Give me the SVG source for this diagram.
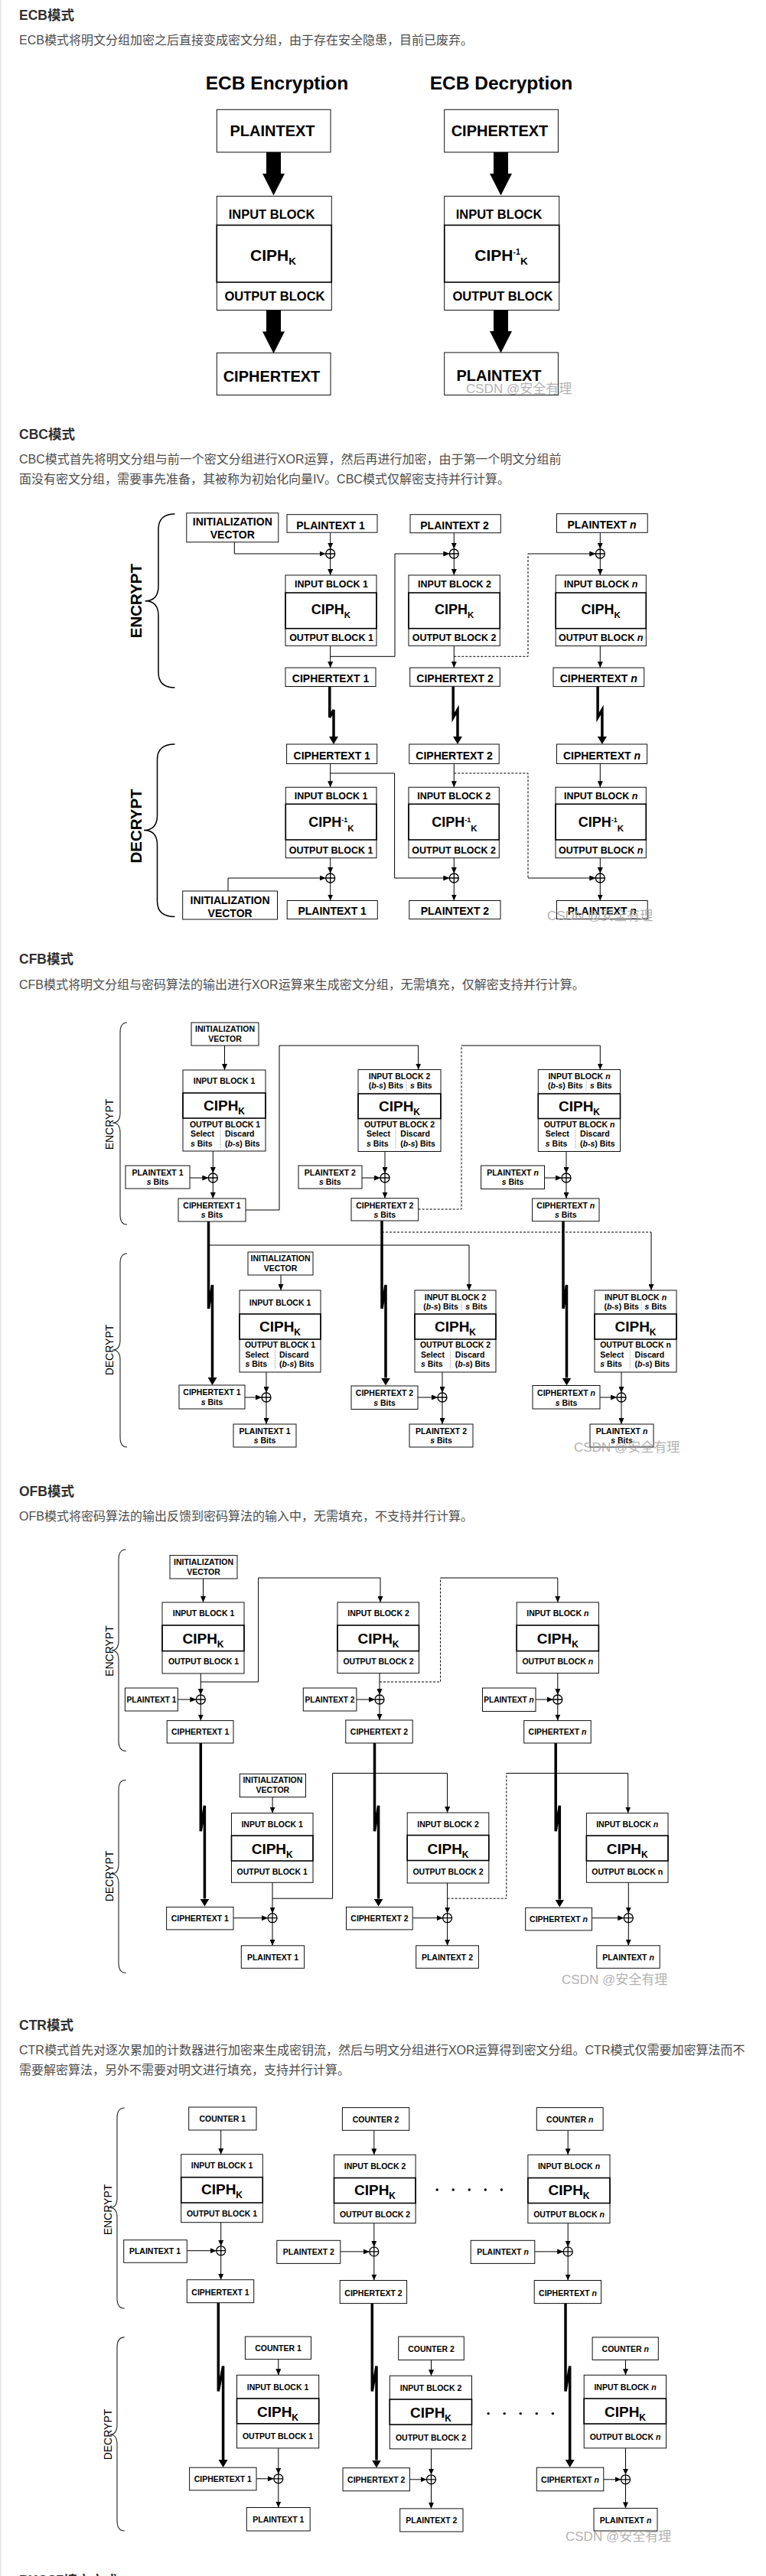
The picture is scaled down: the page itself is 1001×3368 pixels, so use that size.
<svg xmlns="http://www.w3.org/2000/svg" width="1001" height="3368" viewBox="0 0 1001 3368">
<style>
.h{font-family:"Liberation Sans","Noto Sans CJK SC",sans-serif;font-weight:bold;font-size:17.5px;fill:#2f2f2f}
.d{font-family:"Liberation Sans","Noto Sans CJK SC",sans-serif;font-size:16px;fill:#4d4d4d}
.wm{font-family:"Liberation Sans","Noto Sans CJK SC",sans-serif;font-size:17px;fill:#a3a3a3;fill-opacity:.85}
.b{fill:#fff;stroke:#111;stroke-width:1}
.c{fill:none;stroke:#000;stroke-width:1.6}
.t{font-family:"Liberation Sans",Arial,sans-serif;font-weight:bold;fill:#000;text-anchor:middle}
.l{text-anchor:start}
.f10{font-size:10.5px}
.f12{font-size:12.5px}
.f14{font-size:14px}
.f16{font-size:16.5px}
.f20{font-size:20px}
.k{font-size:12px}
.i{font-style:italic}
.ln{fill:none;stroke:#000;stroke-width:1}
.a{marker-end:url(#ah)}
.ds{stroke-dasharray:3 2}
.tk{fill:none;stroke:#000;stroke-width:3.5;marker-end:url(#aht)}
.br{fill:none;stroke:#000;stroke-width:1.5}
.br2{fill:none;stroke:#222;stroke-width:1.1}
.sep{stroke:#999;stroke-width:1;stroke-dasharray:1 1}
.rl{font-family:"Liberation Sans",Arial,sans-serif;text-anchor:middle;fill:#000;font-size:14px}
.rb{font-family:"Liberation Sans",Arial,sans-serif;text-anchor:middle;fill:#000;font-size:20.5px;font-weight:bold}
</style>
<defs>
<marker id="ah" markerUnits="userSpaceOnUse" markerWidth="8" markerHeight="7" refX="8" refY="3.5" orient="auto"><path d="M0,0 L8,3.5 L0,7 z" fill="#000"/></marker>
<marker id="aht" markerUnits="userSpaceOnUse" markerWidth="10" markerHeight="12" refX="0" refY="6" orient="auto"><path d="M0,0 L10,6 L0,12 z" fill="#000"/></marker>
<g id="xor"><circle r="6" fill="#fff" stroke="#000" stroke-width="1.3"/><path d="M-6,0H6M0,-6V6" stroke="#000" stroke-width="1.3"/></g>
<path id="bigArrow" d="M-9.5,0 H9.5 V28 H14.5 L0,56.5 L-14.5,28 H-9.5 Z" fill="#000"/>
</defs>
<rect x="0" y="0" width="1001" height="3368" fill="#fff"/>
<rect x="0" y="0" width="1.5" height="3368" fill="#e3e3e3"/>

<!-- ================= ECB ================= -->
<g id="ecb-text">
<text class="h" x="25" y="26">ECB模式</text>
<text class="d" x="25" y="58">ECB模式将明文分组加密之后直接变成密文分组，由于存在安全隐患，目前已废弃。</text>
<text class="t" x="362" y="117" font-size="24.5">ECB Encryption</text>
<text class="t" x="655" y="117" font-size="24.5">ECB Decryption</text>
</g>
<g id="ecb-enc-plaintext"><rect class="b" x="283.3" y="143.3" width="148.7" height="55.7"/><text class="t f20" x="356" y="177.5">PLAINTEXT</text></g>
<g id="ecb-enc-block"><rect class="b" x="283.3" y="256.5" width="150" height="149"/><rect class="c" x="283.3" y="294.4" width="150" height="74.6"/>
<text class="t f16" x="355" y="286">INPUT BLOCK</text>
<text class="t" x="357" y="341" font-size="21">CIPH<tspan font-size="13.5" dy="5">K</tspan></text>
<text class="t f16" x="359" y="392.6">OUTPUT BLOCK</text></g>
<g id="ecb-enc-ciphertext"><rect class="b" x="283.3" y="461.4" width="148.7" height="55.1"/><text class="t f20" x="355" y="498.6">CIPHERTEXT</text></g>
<g id="ecb-dec-ciphertext"><rect class="b" x="580.7" y="143.3" width="148.7" height="55.7"/><text class="t f20" x="653" y="177.5">CIPHERTEXT</text></g>
<g id="ecb-dec-block"><rect class="b" x="580.7" y="256.5" width="150" height="149"/><rect class="c" x="580.7" y="294.4" width="150" height="74.6"/>
<text class="t f16" x="652" y="286">INPUT BLOCK</text>
<text class="t" x="655" y="341" font-size="21">CIPH<tspan font-size="10.5" dy="-8">-1</tspan><tspan font-size="13.5" dy="13">K</tspan></text>
<text class="t f16" x="657" y="392.6">OUTPUT BLOCK</text></g>
<g id="ecb-dec-plaintext"><rect class="b" x="580.7" y="460.9" width="148.7" height="55.6"/><text class="t f20" x="652" y="497.6">PLAINTEXT</text></g>
<g id="ecb-connectors">
<use href="#bigArrow" x="357.5" y="199"/>
<use href="#bigArrow" x="357.5" y="405.5"/>
<use href="#bigArrow" x="654.5" y="199"/>
<use href="#bigArrow" x="654.5" y="405"/>
</g>
<text class="wm" x="609" y="514">CSDN @安全有理</text>

<!-- ================= CBC ================= -->
<g id="cbc-text">
<text class="h" x="25" y="574">CBC模式</text>
<text class="d" x="25" y="606">CBC模式首先将明文分组与前一个密文分组进行XOR运算，然后再进行加密，由于第一个明文分组前</text>
<text class="d" x="25" y="632">面没有密文分组，需要事先准备，其被称为初始化向量IV。CBC模式仅解密支持并行计算。</text>
</g>
<g id="cbc-labels">
<path class="br" d="M228.5,672 Q207,672 207,692 V766 Q207,785.7 189.5,785.7 Q207,785.7 207,805 V879 Q207,899 228.5,899"/>
<text class="rb" transform="translate(184.5,785.6) rotate(-90)">ENCRYPT</text>
<path class="br" d="M228.5,973 Q205.5,973 205.5,993 V1066 Q205.5,1085.5 188,1085.5 Q205.5,1085.5 205.5,1105 V1178.5 Q205.5,1198.5 228.5,1198.5"/>
<text class="rb" transform="translate(184.5,1080) rotate(-90)">DECRYPT</text>
</g>
<g id="cbc-connectors">
<path class="ln a" d="M306.3,708.8 V724 H425.5"/>
<path class="ln a" d="M431.7,696.2 V717.8"/>
<path class="ln a" d="M593.3,696.7 V717.8"/>
<path class="ln a" d="M784.3,696.3 V717.8"/>
<path class="ln a" d="M431.7,730 V752"/>
<path class="ln a" d="M593.3,730 V752"/>
<path class="ln a" d="M784.3,730 V752"/>
<path class="ln a" d="M431.7,844.3 V873"/>
<path class="ln a" d="M593.3,844.3 V873"/>
<path class="ln a" d="M784.3,844.5 V873"/>
<path class="ln a" d="M431.7,858.3 H516 V724 H587.3"/>
<path class="ln ds" d="M593.3,858.3 H690 V724"/>
<path class="ln a" d="M690,724 H778.3"/>
<path class="tk" d="M430.8,897.5 V938 L436,928 V963"/>
<path class="tk" d="M592.2,897.3 V938 L598,928 V963"/>
<path class="tk" d="M781.1,897.6 V938 L786.9,928 V963"/>
<path class="ln a" d="M431.7,998.5 V1029.3"/>
<path class="ln a" d="M593.3,998.5 V1029.3"/>
<path class="ln a" d="M784.3,998.5 V1029.3"/>
<path class="ln a" d="M431.7,1011 H515.6 V1148 H587.3"/>
<path class="ln ds" d="M593.3,1011 H690 V1148"/>
<path class="ln a" d="M690,1148 H778.3"/>
<path class="ln a" d="M431.7,1121.7 V1142"/>
<path class="ln a" d="M593.3,1121.7 V1142"/>
<path class="ln a" d="M784.3,1121.7 V1142"/>
<path class="ln a" d="M298,1165 V1148 H425.7"/>
<path class="ln a" d="M431.7,1154 V1177.5"/>
<path class="ln a" d="M593.3,1154 V1177.5"/>
<path class="ln a" d="M784.3,1154 V1177.5"/>
<use href="#xor" x="431.7" y="724"/><use href="#xor" x="593.3" y="724"/><use href="#xor" x="784.3" y="724"/>
<use href="#xor" x="431.7" y="1148"/><use href="#xor" x="593.3" y="1148"/><use href="#xor" x="784.3" y="1148"/>
</g>
<g id="cbc-enc-iv"><rect class="b" x="243.8" y="670.8" width="120" height="38"/><text class="t f14" x="303.8" y="687.3">INITIALIZATION</text><text class="t f14" x="303.8" y="704.3">VECTOR</text></g>
<g id="cbc-enc-pt1"><rect class="b" x="375" y="672.7" width="118" height="23.5"/><text class="t f14" x="432" y="691.5">PLAINTEXT 1</text></g>
<g id="cbc-enc-pt2"><rect class="b" x="536" y="672.7" width="118.3" height="24"/><text class="t f14" x="594" y="691.7">PLAINTEXT 2</text></g>
<g id="cbc-enc-ptn"><rect class="b" x="727.5" y="671.7" width="118.7" height="24.6"/><text class="t f14" x="786.5" y="690.8">PLAINTEXT <tspan class="i">n</tspan></text></g>
<g id="cbc-enc-block1"><rect class="b" x="373" y="752" width="119" height="92.3"/><rect class="c" x="373" y="775" width="119" height="46.7"/>
<text class="t f12" x="433" y="768">INPUT BLOCK 1</text><text class="t" x="432.5" y="803.3" font-size="18">CIPH<tspan font-size="11.5" dy="5">K</tspan></text><text class="t f12" x="433" y="838.3">OUTPUT BLOCK 1</text></g>
<g id="cbc-enc-block2"><rect class="b" x="534" y="752" width="119.3" height="92.3"/><rect class="c" x="534" y="775" width="119.3" height="46.7"/>
<text class="t f12" x="594" y="768">INPUT BLOCK 2</text><text class="t" x="593.6" y="803.3" font-size="18">CIPH<tspan font-size="11.5" dy="5">K</tspan></text><text class="t f12" x="593.6" y="838.3">OUTPUT BLOCK 2</text></g>
<g id="cbc-enc-blockn"><rect class="b" x="726.2" y="752" width="118.1" height="92.5"/><rect class="c" x="726.2" y="775" width="118.1" height="46.7"/>
<text class="t f12" x="785.2" y="768">INPUT BLOCK <tspan class="i">n</tspan></text><text class="t" x="785.2" y="803.3" font-size="18">CIPH<tspan font-size="11.5" dy="5">K</tspan></text><text class="t f12" x="785.2" y="838.3">OUTPUT BLOCK <tspan class="i">n</tspan></text></g>
<g id="cbc-enc-ct1"><rect class="b" x="373" y="873" width="118" height="24.5"/><text class="t f14" x="432" y="892.3">CIPHERTEXT 1</text></g>
<g id="cbc-enc-ct2"><rect class="b" x="535.7" y="873" width="117.6" height="24.3"/><text class="t f14" x="594.5" y="892.3">CIPHERTEXT 2</text></g>
<g id="cbc-enc-ctn"><rect class="b" x="723" y="873" width="118.7" height="24.6"/><text class="t f14" x="782.3" y="892.3">CIPHERTEXT <tspan class="i">n</tspan></text></g>
<g id="cbc-dec-ct1"><rect class="b" x="374.6" y="973" width="118.1" height="25.5"/><text class="t f14" x="433.7" y="992.5">CIPHERTEXT 1</text></g>
<g id="cbc-dec-ct2"><rect class="b" x="534.8" y="973" width="117.4" height="25.5"/><text class="t f14" x="593.5" y="992.5">CIPHERTEXT 2</text></g>
<g id="cbc-dec-ctn"><rect class="b" x="727.5" y="973" width="118.1" height="25.5"/><text class="t f14" x="786.5" y="992.5">CIPHERTEXT <tspan class="i">n</tspan></text></g>
<g id="cbc-dec-block1"><rect class="b" x="373.3" y="1029.3" width="118.7" height="92.4"/><rect class="c" x="373.3" y="1051.3" width="118.7" height="46.7"/>
<text class="t f12" x="432.6" y="1045.3">INPUT BLOCK 1</text><text class="t" x="433" y="1080.6" font-size="18">CIPH<tspan font-size="9" dy="-6">-1</tspan><tspan font-size="11.5" dy="12">K</tspan></text><text class="t f12" x="432.6" y="1115.6">OUTPUT BLOCK 1</text></g>
<g id="cbc-dec-block2"><rect class="b" x="534" y="1029.3" width="118.3" height="92.4"/><rect class="c" x="534" y="1051.3" width="118.3" height="46.7"/>
<text class="t f12" x="593.2" y="1045.3">INPUT BLOCK 2</text><text class="t" x="594" y="1080.6" font-size="18">CIPH<tspan font-size="9" dy="-6">-1</tspan><tspan font-size="11.5" dy="12">K</tspan></text><text class="t f12" x="593.2" y="1115.6">OUTPUT BLOCK 2</text></g>
<g id="cbc-dec-blockn"><rect class="b" x="726" y="1029.3" width="118.3" height="92.4"/><rect class="c" x="726" y="1051.3" width="118.3" height="46.7"/>
<text class="t f12" x="785.2" y="1045.3">INPUT BLOCK <tspan class="i">n</tspan></text><text class="t" x="785.5" y="1080.6" font-size="18">CIPH<tspan font-size="9" dy="-6">-1</tspan><tspan font-size="11.5" dy="12">K</tspan></text><text class="t f12" x="785.2" y="1115.6">OUTPUT BLOCK <tspan class="i">n</tspan></text></g>
<g id="cbc-dec-iv"><rect class="b" x="238.7" y="1165" width="123.8" height="37"/><text class="t f14" x="300.6" y="1181.5">INITIALIZATION</text><text class="t f14" x="300.6" y="1198.5">VECTOR</text></g>
<g id="cbc-dec-pt1"><rect class="b" x="375.2" y="1177.5" width="118.1" height="24.1"/><text class="t f14" x="434.2" y="1196">PLAINTEXT 1</text></g>
<g id="cbc-dec-pt2"><rect class="b" x="534.8" y="1177.5" width="119.2" height="24.1"/><text class="t f14" x="594.4" y="1196">PLAINTEXT 2</text></g>
<g id="cbc-dec-ptn"><rect class="b" x="727.5" y="1177.5" width="118.7" height="24.1"/><text class="t f14" x="786.8" y="1196">PLAINTEXT <tspan class="i">n</tspan></text></g>
<text class="wm" x="715" y="1203">CSDN @安全有理</text>

<!-- ================= CFB ================= -->
<g id="cfb-text">
<text class="h" x="25" y="1260">CFB模式</text>
<text class="d" x="25" y="1293">CFB模式将明文分组与密码算法的输出进行XOR运算来生成密文分组，无需填充，仅解密支持并行计算。</text>
</g>
<g id="cfb-labels">
<path class="br2" d="M166,1337 Q157,1337 157,1350 V1455 Q157,1468 147,1468 Q157,1468 157,1481 V1588 Q157,1601 166,1601"/>
<text class="rl" transform="translate(148,1470) rotate(-90)">ENCRYPT</text>
<path class="br2" d="M166,1639 Q157,1639 157,1652 V1752 Q157,1765 147,1765 Q157,1765 157,1778 V1879 Q157,1892 166,1892"/>
<text class="rl" transform="translate(148,1765) rotate(-90)">DECRYPT</text>
</g>
<g id="cfb-connectors">
<path class="ln a" d="M293.5,1367 V1399"/>
<path class="ln a" d="M278.3,1505 V1534"/>
<path class="ln a" d="M248,1540 H272.3"/>
<path class="ln a" d="M278.3,1546 V1567"/>
<path class="ln a" d="M321,1582 H365 V1367 H546.7 V1398.5"/>
<path class="ln a" d="M503,1505.5 V1534"/>
<path class="ln a" d="M473,1540 H497"/>
<path class="ln a" d="M503,1546 V1566.7"/>
<path class="ln ds" d="M546.7,1581 H603 V1367"/>
<path class="ln a" d="M603,1367 H784.3 V1398.5"/>
<path class="ln a" d="M740,1505.5 V1534"/>
<path class="ln a" d="M711.5,1540 H734"/>
<path class="ln a" d="M740,1546 V1567"/>
<path class="tk" d="M272.5,1597 V1711 L277.5,1680 V1801"/>
<path class="tk" d="M499,1596 V1711 L504,1680 V1801.5"/>
<path class="tk" d="M736,1596.7 V1711 L740.5,1680 V1801.5"/>
<path class="ln a" d="M272.5,1628 H613 V1687"/>
<path class="ln ds" d="M499,1611 H851"/>
<path class="ln a" d="M851,1611 V1687"/>
<path class="ln a" d="M367,1667 V1687"/>
<path class="ln a" d="M348,1794 V1821"/>
<path class="ln a" d="M320,1827 H342"/>
<path class="ln a" d="M348,1833 V1862"/>
<path class="ln a" d="M578,1794 V1821"/>
<path class="ln a" d="M546,1827 H572"/>
<path class="ln a" d="M578,1833 V1862"/>
<path class="ln a" d="M812,1794 V1821"/>
<path class="ln a" d="M784,1827 H806"/>
<path class="ln a" d="M812,1833 V1862"/>
<use href="#xor" x="278.3" y="1540"/><use href="#xor" x="503" y="1540"/><use href="#xor" x="740" y="1540"/>
<use href="#xor" x="348" y="1827"/><use href="#xor" x="578" y="1827"/><use href="#xor" x="812" y="1827"/>
</g>
<g id="cfb-enc-iv"><rect class="b" x="250" y="1337" width="88" height="30"/><text class="t f10" x="294" y="1349">INITIALIZATION</text><text class="t f10" x="294" y="1362">VECTOR</text></g>
<g id="cfb-enc-block1"><rect class="b" x="239" y="1399" width="108" height="106"/><rect class="c" x="239" y="1429" width="108" height="33"/>
<text class="t f10" x="293" y="1417">INPUT BLOCK 1</text>
<text class="t" x="293" y="1452.3" font-size="19">CIPH<tspan class="k" dy="5">K</tspan></text>
<text class="t f10" x="294" y="1473.5">OUTPUT BLOCK 1</text>
<text class="t f10 l" x="249" y="1486">Select</text><text class="t f10 l" x="294" y="1486">Discard</text>
<text class="t f10 l" x="249" y="1498.7"><tspan class="i">s</tspan> Bits</text><text class="t f10 l" x="294" y="1498.7">(<tspan class="i">b</tspan>-<tspan class="i">s</tspan>) Bits</text>
<line class="sep" x1="288" y1="1478" x2="288" y2="1501"/></g>
<g id="cfb-enc-pt1"><rect class="b" x="164" y="1524" width="84" height="30"/><text class="t f10" x="206" y="1536.7">PLAINTEXT 1</text><text class="t f10" x="206" y="1549"><tspan class="i">s</tspan> Bits</text></g>
<g id="cfb-enc-ct1"><rect class="b" x="233" y="1567" width="88" height="30"/><text class="t f10" x="277" y="1580">CIPHERTEXT 1</text><text class="t f10" x="277" y="1592.3"><tspan class="i">s</tspan> Bits</text></g>
<g id="cfb-enc-block2"><rect class="b" x="468" y="1398.5" width="108" height="107"/><rect class="c" x="468" y="1430" width="108" height="32.5"/>
<text class="t f10" x="522" y="1410.7">INPUT BLOCK 2</text>
<text class="t f10 l" x="481.7" y="1422.7">(<tspan class="i">b</tspan>-<tspan class="i">s</tspan>) Bits</text><text class="t f10 l" x="536" y="1422.7"><tspan class="i">s</tspan> Bits</text>
<line class="sep" x1="531" y1="1413" x2="531" y2="1426"/>
<text class="t" x="522" y="1452.5" font-size="19">CIPH<tspan class="k" dy="5">K</tspan></text>
<text class="t f10" x="522" y="1473.5">OUTPUT BLOCK 2</text>
<text class="t f10 l" x="479" y="1486">Select</text><text class="t f10 l" x="523.3" y="1486">Discard</text>
<text class="t f10 l" x="479" y="1498.7"><tspan class="i">s</tspan> Bits</text><text class="t f10 l" x="523.3" y="1498.7">(<tspan class="i">b</tspan>-<tspan class="i">s</tspan>) Bits</text>
<line class="sep" x1="517" y1="1478" x2="517" y2="1501"/></g>
<g id="cfb-enc-pt2"><rect class="b" x="390" y="1524" width="83" height="30"/><text class="t f10" x="431.3" y="1536.7">PLAINTEXT 2</text><text class="t f10" x="431.3" y="1549"><tspan class="i">s</tspan> Bits</text></g>
<g id="cfb-enc-ct2"><rect class="b" x="459" y="1566.7" width="87.7" height="29.3"/><text class="t f10" x="502.8" y="1579.7">CIPHERTEXT 2</text><text class="t f10" x="502.8" y="1592"><tspan class="i">s</tspan> Bits</text></g>
<g id="cfb-enc-blockn"><rect class="b" x="703.3" y="1398.5" width="107.2" height="107"/><rect class="c" x="703.3" y="1430" width="107.2" height="32.5"/>
<text class="t f10" x="757" y="1410.7">INPUT BLOCK <tspan class="i">n</tspan></text>
<text class="t f10 l" x="716" y="1422.7">(<tspan class="i">b</tspan>-<tspan class="i">s</tspan>) Bits</text><text class="t f10 l" x="771" y="1422.7"><tspan class="i">s</tspan> Bits</text>
<line class="sep" x1="766" y1="1413" x2="766" y2="1426"/>
<text class="t" x="757" y="1452.5" font-size="19">CIPH<tspan class="k" dy="5">K</tspan></text>
<text class="t f10" x="757" y="1473.5">OUTPUT BLOCK <tspan class="i">n</tspan></text>
<text class="t f10 l" x="712.8" y="1486">Select</text><text class="t f10 l" x="758.1" y="1486">Discard</text>
<text class="t f10 l" x="712.8" y="1498.7"><tspan class="i">s</tspan> Bits</text><text class="t f10 l" x="758.1" y="1498.7">(<tspan class="i">b</tspan>-<tspan class="i">s</tspan>) Bits</text>
<line class="sep" x1="752" y1="1478" x2="752" y2="1501"/></g>
<g id="cfb-enc-ptn"><rect class="b" x="628.6" y="1524" width="82.9" height="30.5"/><text class="t f10" x="670" y="1536.7">PLAINTEXT <tspan class="i">n</tspan></text><text class="t f10" x="670" y="1549"><tspan class="i">s</tspan> Bits</text></g>
<g id="cfb-enc-ctn"><rect class="b" x="695.6" y="1567" width="87.4" height="29.7"/><text class="t f10" x="739.3" y="1580">CIPHERTEXT <tspan class="i">n</tspan></text><text class="t f10" x="739.3" y="1592.3"><tspan class="i">s</tspan> Bits</text></g>
<g id="cfb-dec-iv"><rect class="b" x="324" y="1637" width="85" height="30"/><text class="t f10" x="366.5" y="1649">INITIALIZATION</text><text class="t f10" x="366.5" y="1662">VECTOR</text></g>
<g id="cfb-dec-block1"><rect class="b" x="313" y="1687" width="106" height="107"/><rect class="c" x="313" y="1718" width="106" height="33"/>
<text class="t f10" x="366" y="1706.5">INPUT BLOCK 1</text>
<text class="t" x="366" y="1740.5" font-size="19">CIPH<tspan class="k" dy="5">K</tspan></text>
<text class="t f10" x="366" y="1762">OUTPUT BLOCK 1</text>
<text class="t f10 l" x="320.4" y="1774.5">Select</text><text class="t f10 l" x="365" y="1774.5">Discard</text>
<text class="t f10 l" x="320.4" y="1787"><tspan class="i">s</tspan> Bits</text><text class="t f10 l" x="365" y="1787">(<tspan class="i">b</tspan>-<tspan class="i">s</tspan>) Bits</text>
<line class="sep" x1="359.5" y1="1766" x2="359.5" y2="1789"/></g>
<g id="cfb-dec-ct1"><rect class="b" x="234" y="1811" width="86" height="31"/><text class="t f10" x="277" y="1824.4">CIPHERTEXT 1</text><text class="t f10" x="277" y="1836.7"><tspan class="i">s</tspan> Bits</text></g>
<g id="cfb-dec-pt1"><rect class="b" x="305" y="1862" width="82" height="30"/><text class="t f10" x="346" y="1875">PLAINTEXT 1</text><text class="t f10" x="346" y="1887.3"><tspan class="i">s</tspan> Bits</text></g>
<g id="cfb-dec-block2"><rect class="b" x="542" y="1687" width="106" height="107"/><rect class="c" x="542" y="1718" width="106" height="33"/>
<text class="t f10" x="595" y="1700">INPUT BLOCK 2</text>
<text class="t f10 l" x="553.3" y="1712">(<tspan class="i">b</tspan>-<tspan class="i">s</tspan>) Bits</text><text class="t f10 l" x="608.2" y="1712"><tspan class="i">s</tspan> Bits</text>
<line class="sep" x1="603.3" y1="1703" x2="603.3" y2="1715"/>
<text class="t" x="595" y="1740.5" font-size="19">CIPH<tspan class="k" dy="5">K</tspan></text>
<text class="t f10" x="595" y="1762">OUTPUT BLOCK 2</text>
<text class="t f10 l" x="550" y="1774.5">Select</text><text class="t f10 l" x="594.8" y="1774.5">Discard</text>
<text class="t f10 l" x="550" y="1787"><tspan class="i">s</tspan> Bits</text><text class="t f10 l" x="594.8" y="1787">(<tspan class="i">b</tspan>-<tspan class="i">s</tspan>) Bits</text>
<line class="sep" x1="588.4" y1="1766" x2="588.4" y2="1789"/></g>
<g id="cfb-dec-ct2"><rect class="b" x="459" y="1812" width="87" height="30.5"/><text class="t f10" x="502.5" y="1825">CIPHERTEXT 2</text><text class="t f10" x="502.5" y="1837.5"><tspan class="i">s</tspan> Bits</text></g>
<g id="cfb-dec-pt2"><rect class="b" x="535" y="1862" width="83" height="30"/><text class="t f10" x="576.5" y="1875">PLAINTEXT 2</text><text class="t f10" x="576.5" y="1887.3"><tspan class="i">s</tspan> Bits</text></g>
<g id="cfb-dec-blockn"><rect class="b" x="777" y="1687" width="107" height="107"/><rect class="c" x="777" y="1718" width="107" height="33"/>
<text class="t f10" x="830.5" y="1700">INPUT BLOCK <tspan class="i">n</tspan></text>
<text class="t f10 l" x="789.4" y="1712">(<tspan class="i">b</tspan>-<tspan class="i">s</tspan>) Bits</text><text class="t f10 l" x="842.4" y="1712"><tspan class="i">s</tspan> Bits</text>
<line class="sep" x1="838" y1="1703" x2="838" y2="1715"/>
<text class="t" x="830.5" y="1740.5" font-size="19">CIPH<tspan class="k" dy="5">K</tspan></text>
<text class="t f10" x="830.5" y="1762">OUTPUT BLOCK n</text>
<text class="t f10 l" x="784.3" y="1774.5">Select</text><text class="t f10 l" x="829.6" y="1774.5">Discard</text>
<text class="t f10 l" x="784.3" y="1787"><tspan class="i">s</tspan> Bits</text><text class="t f10 l" x="829.6" y="1787">(<tspan class="i">b</tspan>-<tspan class="i">s</tspan>) Bits</text>
<line class="sep" x1="823.2" y1="1766" x2="823.2" y2="1789"/></g>
<g id="cfb-dec-ctn"><rect class="b" x="696" y="1811.5" width="88" height="30.5"/><text class="t f10" x="740" y="1825">CIPHERTEXT <tspan class="i">n</tspan></text><text class="t f10" x="740" y="1837.5"><tspan class="i">s</tspan> Bits</text></g>
<g id="cfb-dec-ptn"><rect class="b" x="771" y="1862" width="83" height="30"/><text class="t f10" x="812.5" y="1875">PLAINTEXT <tspan class="i">n</tspan></text><text class="t f10" x="812.5" y="1887.3"><tspan class="i">s</tspan> Bits</text></g>
<text class="wm" x="750" y="1898">CSDN @安全有理</text>

<!-- ================= OFB ================= -->
<g id="ofb-text">
<text class="h" x="25" y="1956">OFB模式</text>
<text class="d" x="25" y="1988">OFB模式将密码算法的输出反馈到密码算法的输入中，无需填充，不支持并行计算。</text>
</g>
<g id="ofb-labels">
<path class="br2" d="M164.6,2026 Q155,2026 155,2039 V2145 Q155,2157.7 145.5,2157.7 Q155,2157.7 155,2170 V2276 Q155,2289.4 164.6,2289.4"/>
<text class="rl" transform="translate(148,2158.6) rotate(-90)">ENCRYPT</text>
<path class="br2" d="M164.6,2327.3 Q155,2327.3 155,2340 V2437 Q155,2450 145.5,2450 Q155,2450 155,2463 V2566 Q155,2579.5 164.6,2579.5"/>
<text class="rl" transform="translate(148,2453) rotate(-90)">DECRYPT</text>
</g>
<g id="ofb-connectors">
<path class="ln a" d="M265.5,2064 V2095"/>
<path class="ln a" d="M262.3,2188 V2216"/>
<path class="ln a" d="M262.3,2199 H337.6 V2063 H497 V2095"/>
<path class="ln a" d="M232.3,2222 H256.3"/>
<path class="ln a" d="M262.3,2228 V2249.6"/>
<path class="ln a" d="M496,2187.6 V2216"/>
<path class="ln ds" d="M496,2199 H575.6 V2063"/>
<path class="ln a" d="M575.6,2063 H728.8 V2095"/>
<path class="ln a" d="M465.9,2222 H490"/>
<path class="ln a" d="M496,2228 V2249"/>
<path class="ln a" d="M728.8,2187.6 V2216"/>
<path class="ln a" d="M700,2222 H722.8"/>
<path class="ln a" d="M728.8,2228 V2249.6"/>
<path class="tk" d="M262.3,2279 V2394.3 L267.4,2360.8 V2482.5"/>
<path class="tk" d="M489.5,2279 V2394.3 L494.6,2360.8 V2482.5"/>
<path class="tk" d="M726.2,2279 V2394.3 L731.3,2360.8 V2483.5"/>
<path class="ln a" d="M356.1,2349.6 V2370.6"/>
<path class="ln a" d="M356,2461.3 V2501.7"/>
<path class="ln a" d="M356,2482.2 H434.6 V2318.4 H584.6 V2370"/>
<path class="ln a" d="M305,2507.7 H350"/>
<path class="ln a" d="M356,2513.7 V2543.8"/>
<path class="ln a" d="M584.6,2462 V2501.7"/>
<path class="ln ds" d="M584.6,2482.2 H661.8 V2318.4"/>
<path class="ln a" d="M661.8,2318.4 H820.7 V2370.6"/>
<path class="ln a" d="M539.2,2507.7 H578.6"/>
<path class="ln a" d="M584.6,2513.7 V2543.8"/>
<path class="ln a" d="M821.3,2461.3 V2501.7"/>
<path class="ln a" d="M773.5,2507.7 H815.3"/>
<path class="ln a" d="M821.3,2513.7 V2543.8"/>
<use href="#xor" x="262.3" y="2222"/><use href="#xor" x="496" y="2222"/><use href="#xor" x="728.8" y="2222"/>
<use href="#xor" x="356" y="2507.7"/><use href="#xor" x="584.6" y="2507.7"/><use href="#xor" x="821.3" y="2507.7"/>
</g>
<g id="ofb-enc-iv"><rect class="b" x="222" y="2033.6" width="88" height="30.4"/><text class="t f10" x="266" y="2045.6">INITIALIZATION</text><text class="t f10" x="266" y="2058.6">VECTOR</text></g>
<g id="ofb-enc-block1"><rect class="b" x="212" y="2095" width="107" height="93"/><rect class="c" x="212" y="2125" width="107" height="33.6"/>
<text class="t f10" x="266" y="2113.3">INPUT BLOCK 1</text><text class="t" x="265.5" y="2148.6" font-size="19">CIPH<tspan class="k" dy="5">K</tspan></text><text class="t f10" x="266" y="2176.3">OUTPUT BLOCK 1</text></g>
<g id="ofb-enc-pt1"><rect class="b" x="163.4" y="2207" width="69" height="30"/><text class="t" font-size="10.2" x="198" y="2225.5">PLAINTEXT 1</text></g>
<g id="ofb-enc-ct1"><rect class="b" x="218.2" y="2249.6" width="86.8" height="29.4"/><text class="t f10" x="261.6" y="2268">CIPHERTEXT 1</text></g>
<g id="ofb-enc-block2"><rect class="b" x="441" y="2095" width="106.5" height="92.6"/><rect class="c" x="441" y="2125" width="106.5" height="33.6"/>
<text class="t f10" x="494.5" y="2113.3">INPUT BLOCK 2</text><text class="t" x="494.5" y="2148.6" font-size="19">CIPH<tspan class="k" dy="5">K</tspan></text><text class="t f10" x="494.5" y="2176.3">OUTPUT BLOCK 2</text></g>
<g id="ofb-enc-pt2"><rect class="b" x="396.3" y="2207" width="69.6" height="30"/><text class="t" font-size="10.2" x="431" y="2225.5">PLAINTEXT 2</text></g>
<g id="ofb-enc-ct2"><rect class="b" x="451.8" y="2249" width="87.4" height="30"/><text class="t f10" x="495.5" y="2267.5">CIPHERTEXT 2</text></g>
<g id="ofb-enc-blockn"><rect class="b" x="675.2" y="2095" width="107.2" height="92.6"/><rect class="c" x="675.2" y="2125" width="107.2" height="33.6"/>
<text class="t f10" x="728.8" y="2113.3">INPUT BLOCK <tspan class="i">n</tspan></text><text class="t" x="728.8" y="2148.6" font-size="19">CIPH<tspan class="k" dy="5">K</tspan></text><text class="t f10" x="728.8" y="2176.3">OUTPUT BLOCK <tspan class="i">n</tspan></text></g>
<g id="ofb-enc-ptn"><rect class="b" x="630.5" y="2207" width="69.5" height="30.5"/><text class="t" font-size="10.2" x="665" y="2225.5">PLAINTEXT <tspan class="i">n</tspan></text></g>
<g id="ofb-enc-ctn"><rect class="b" x="684.7" y="2249.6" width="87.5" height="29.4"/><text class="t f10" x="728.5" y="2268">CIPHERTEXT <tspan class="i">n</tspan></text></g>
<g id="ofb-dec-iv"><rect class="b" x="313.3" y="2319.3" width="86.2" height="30.3"/><text class="t f10" x="356.4" y="2331.3">INITIALIZATION</text><text class="t f10" x="356.4" y="2344.3">VECTOR</text></g>
<g id="ofb-dec-block1"><rect class="b" x="302.5" y="2370.6" width="106.5" height="90.7"/><rect class="c" x="302.5" y="2400" width="106.5" height="33"/>
<text class="t f10" x="355.7" y="2389">INPUT BLOCK 1</text><text class="t" x="355.7" y="2423.8" font-size="19">CIPH<tspan class="k" dy="5">K</tspan></text><text class="t f10" x="355.7" y="2451">OUTPUT BLOCK 1</text></g>
<g id="ofb-dec-ct1"><rect class="b" x="217.6" y="2493.4" width="87.4" height="29.5"/><text class="t f10" x="261.3" y="2512">CIPHERTEXT 1</text></g>
<g id="ofb-dec-pt1"><rect class="b" x="315.3" y="2543.8" width="82.3" height="29.5"/><text class="t f10" x="356.5" y="2562.5">PLAINTEXT 1</text></g>
<g id="ofb-dec-block2"><rect class="b" x="532.2" y="2370" width="106.6" height="92"/><rect class="c" x="532.2" y="2399.5" width="106.6" height="33"/>
<text class="t f10" x="585.5" y="2388.5">INPUT BLOCK 2</text><text class="t" x="585.5" y="2423.5" font-size="19">CIPH<tspan class="k" dy="5">K</tspan></text><text class="t f10" x="585.5" y="2451">OUTPUT BLOCK 2</text></g>
<g id="ofb-dec-ct2"><rect class="b" x="452.5" y="2493.4" width="86.7" height="29.5"/><text class="t f10" x="496" y="2512">CIPHERTEXT 2</text></g>
<g id="ofb-dec-pt2"><rect class="b" x="543.7" y="2543.8" width="81.7" height="29.5"/><text class="t f10" x="584.5" y="2562.5">PLAINTEXT 2</text></g>
<g id="ofb-dec-blockn"><rect class="b" x="766.4" y="2370.6" width="106.6" height="90.7"/><rect class="c" x="766.4" y="2400" width="106.6" height="33"/>
<text class="t f10" x="819.7" y="2389">INPUT BLOCK <tspan class="i">n</tspan></text><text class="t" x="819.7" y="2423.8" font-size="19">CIPH<tspan class="k" dy="5">K</tspan></text><text class="t f10" x="819.7" y="2451">OUTPUT BLOCK n</text></g>
<g id="ofb-dec-ctn"><rect class="b" x="686.7" y="2494.3" width="86.8" height="29.6"/><text class="t f10" x="730" y="2513">CIPHERTEXT <tspan class="i">n</tspan></text></g>
<g id="ofb-dec-ptn"><rect class="b" x="779.8" y="2543.8" width="82.4" height="29.5"/><text class="t f10" x="821" y="2562.5">PLAINTEXT <tspan class="i">n</tspan></text></g>
<text class="wm" x="734" y="2594">CSDN @安全有理</text>

<!-- ================= CTR ================= -->
<g id="ctr-text">
<text class="h" x="25" y="2654">CTR模式</text>
<text class="d" x="25" y="2686">CTR模式首先对逐次累加的计数器进行加密来生成密钥流，然后与明文分组进行XOR运算得到密文分组。CTR模式仅需要加密算法而不</text>
<text class="d" x="25" y="2712">需要解密算法，另外不需要对明文进行填充，支持并行计算。</text>
</g>
<g id="ctr-labels">
<path class="br2" d="M162.7,2756 Q153,2756 153,2769 V2874 Q153,2886.5 143.6,2886.5 Q153,2886.5 153,2899 V3005 Q153,3018.2 162.7,3018.2"/>
<text class="rl" transform="translate(145.5,2889) rotate(-90)">ENCRYPT</text>
<path class="br2" d="M162.7,3055.9 Q153,3055.9 153,3069 V3170 Q153,3183 143.6,3183 Q153,3183 153,3196 V3296 Q153,3309 162.7,3309"/>
<text class="rl" transform="translate(145.5,3183) rotate(-90)">DECRYPT</text>
</g>
<g id="ctr-dots">
<circle cx="571.2" cy="2863" r="1.7"/><circle cx="592.2" cy="2863" r="1.7"/><circle cx="613.3" cy="2863" r="1.7"/><circle cx="634.3" cy="2863" r="1.7"/><circle cx="655.4" cy="2863" r="1.7"/>
<circle cx="638.2" cy="3155.6" r="1.7"/><circle cx="659.2" cy="3155.6" r="1.7"/><circle cx="680.3" cy="3155.6" r="1.7"/><circle cx="701.3" cy="3155.6" r="1.7"/><circle cx="722.4" cy="3155.6" r="1.7"/>
</g>
<g id="ctr-connectors">
<path class="ln a" d="M288.7,2785 V2816.7"/>
<path class="ln a" d="M288.7,2905.7 V2936.7"/>
<path class="ln a" d="M244.3,2942.7 H282.7"/>
<path class="ln a" d="M288.7,2948.7 V2980.7"/>
<path class="ln a" d="M488.8,2785.3 V2817.3"/>
<path class="ln a" d="M488.8,2906.7 V2937.9"/>
<path class="ln a" d="M444.8,2943.9 H482.8"/>
<path class="ln a" d="M488.8,2949.9 V2981.5"/>
<path class="ln a" d="M742.2,2785.3 V2817.3"/>
<path class="ln a" d="M742.2,2906.7 V2937.9"/>
<path class="ln a" d="M698.8,2943.9 H736.2"/>
<path class="ln a" d="M742.2,2949.9 V2981.5"/>
<path class="tk" d="M285.3,3010.7 V3126.5 L291.6,3093.5 V3216"/>
<path class="tk" d="M486.3,3011.6 V3126.5 L492,3093.5 V3216.5"/>
<path class="tk" d="M739,3011.6 V3126.5 L744.7,3093.5 V3216"/>
<path class="ln a" d="M363.8,3084.6 V3105.3"/>
<path class="ln a" d="M363.8,3200.8 V3234.8"/>
<path class="ln a" d="M335,3240.8 H357.8"/>
<path class="ln a" d="M363.8,3246.8 V3278.5"/>
<path class="ln a" d="M563.5,3085.6 V3106.2"/>
<path class="ln a" d="M563.5,3201.8 V3235.8"/>
<path class="ln a" d="M535.4,3241.8 H557.5"/>
<path class="ln a" d="M563.5,3247.8 V3279.9"/>
<path class="ln a" d="M817.5,3085.5 V3105.3"/>
<path class="ln a" d="M817.5,3200.8 V3235.8"/>
<path class="ln a" d="M788.8,3241.8 H811.5"/>
<path class="ln a" d="M817.5,3247.8 V3279.4"/>
<use href="#xor" x="288.7" y="2942.7"/><use href="#xor" x="488.8" y="2943.9"/><use href="#xor" x="742.2" y="2943.9"/>
<use href="#xor" x="363.8" y="3240.8"/><use href="#xor" x="563.5" y="3241.8"/><use href="#xor" x="817.5" y="3241.8"/>
</g>
<g id="ctr-enc-counter1"><rect class="b" x="246.7" y="2755" width="88.3" height="30"/><text class="t f10" x="290.8" y="2774.3">COUNTER 1</text></g>
<g id="ctr-enc-block1"><rect class="b" x="236.7" y="2816.7" width="106.6" height="89"/><rect class="c" x="236.7" y="2846.7" width="106.6" height="33.3"/>
<text class="t f10" x="290" y="2835">INPUT BLOCK 1</text><text class="t" x="290" y="2869.3" font-size="19">CIPH<tspan class="k" dy="5">K</tspan></text><text class="t f10" x="290" y="2898.3">OUTPUT BLOCK 1</text></g>
<g id="ctr-enc-pt1"><rect class="b" x="161.7" y="2928.7" width="82.6" height="29.6"/><text class="t f10" x="202.5" y="2947.3">PLAINTEXT 1</text></g>
<g id="ctr-enc-ct1"><rect class="b" x="244.3" y="2980.7" width="87.4" height="30"/><text class="t f10" x="288" y="3000.7">CIPHERTEXT 1</text></g>
<g id="ctr-enc-counter2"><rect class="b" x="447.4" y="2755.6" width="87.4" height="29.7"/><text class="t f10" x="491" y="2774.5">COUNTER 2</text></g>
<g id="ctr-enc-block2"><rect class="b" x="436.5" y="2817.3" width="106.6" height="89.4"/><rect class="c" x="436.5" y="2847.5" width="106.6" height="33"/>
<text class="t f10" x="490" y="2836">INPUT BLOCK 2</text><text class="t" x="490" y="2870" font-size="19">CIPH<tspan class="k" dy="5">K</tspan></text><text class="t f10" x="490" y="2899.3">OUTPUT BLOCK 2</text></g>
<g id="ctr-enc-pt2"><rect class="b" x="361.8" y="2929.3" width="83" height="30.1"/><text class="t f10" x="403.3" y="2948.3">PLAINTEXT 2</text></g>
<g id="ctr-enc-ct2"><rect class="b" x="444.2" y="2981.5" width="87.4" height="30.1"/><text class="t f10" x="488" y="3001.5">CIPHERTEXT 2</text></g>
<g id="ctr-enc-countern"><rect class="b" x="701.3" y="2755.6" width="86.8" height="29.7"/><text class="t f10" x="744.7" y="2774.5">COUNTER <tspan class="i">n</tspan></text></g>
<g id="ctr-enc-blockn"><rect class="b" x="689.9" y="2817.3" width="107.1" height="89.4"/><rect class="c" x="689.9" y="2847.5" width="107.1" height="33"/>
<text class="t f10" x="743.5" y="2836">INPUT BLOCK <tspan class="i">n</tspan></text><text class="t" x="743.5" y="2870" font-size="19">CIPH<tspan class="k" dy="5">K</tspan></text><text class="t f10" x="743.5" y="2899.3">OUTPUT BLOCK <tspan class="i">n</tspan></text></g>
<g id="ctr-enc-ptn"><rect class="b" x="615.2" y="2929.3" width="83.6" height="30.1"/><text class="t f10" x="657" y="2948.3">PLAINTEXT <tspan class="i">n</tspan></text></g>
<g id="ctr-enc-ctn"><rect class="b" x="698.2" y="2981.5" width="87.4" height="30.1"/><text class="t f10" x="742" y="3001.5">CIPHERTEXT <tspan class="i">n</tspan></text></g>
<g id="ctr-dec-counter1"><rect class="b" x="320.4" y="3055" width="86.1" height="29.6"/><text class="t f10" x="363.5" y="3074.3">COUNTER 1</text></g>
<g id="ctr-dec-block1"><rect class="b" x="309.5" y="3105.3" width="107.2" height="95.5"/><rect class="c" x="309.5" y="3135.9" width="107.2" height="32.9"/>
<text class="t f10" x="363" y="3124.5">INPUT BLOCK 1</text><text class="t" x="363" y="3159.5" font-size="19">CIPH<tspan class="k" dy="5">K</tspan></text><text class="t f10" x="363" y="3189.3">OUTPUT BLOCK 1</text></g>
<g id="ctr-dec-ct1"><rect class="b" x="247.6" y="3226.2" width="87.4" height="29.7"/><text class="t f10" x="291.3" y="3245">CIPHERTEXT 1</text></g>
<g id="ctr-dec-pt1"><rect class="b" x="322.3" y="3278.5" width="82.9" height="30.5"/><text class="t f10" x="363.8" y="3297.8">PLAINTEXT 1</text></g>
<g id="ctr-dec-counter2"><rect class="b" x="520.7" y="3055" width="85.6" height="30.6"/><text class="t f10" x="563.5" y="3074.8">COUNTER 2</text></g>
<g id="ctr-dec-block2"><rect class="b" x="509.3" y="3106.2" width="107.2" height="95.6"/><rect class="c" x="509.3" y="3137" width="107.2" height="33"/>
<text class="t f10" x="563" y="3125.5">INPUT BLOCK 2</text><text class="t" x="563" y="3160.5" font-size="19">CIPH<tspan class="k" dy="5">K</tspan></text><text class="t f10" x="563" y="3190.5">OUTPUT BLOCK 2</text></g>
<g id="ctr-dec-ct2"><rect class="b" x="448" y="3226.7" width="87.4" height="30.1"/><text class="t f10" x="491.7" y="3245.8">CIPHERTEXT 2</text></g>
<g id="ctr-dec-pt2"><rect class="b" x="522.7" y="3279.9" width="82.3" height="30.1"/><text class="t f10" x="563.8" y="3299">PLAINTEXT 2</text></g>
<g id="ctr-dec-countern"><rect class="b" x="774.1" y="3055.9" width="86.2" height="29.6"/><text class="t f10" x="817.2" y="3075">COUNTER <tspan class="i">n</tspan></text></g>
<g id="ctr-dec-blockn"><rect class="b" x="763.2" y="3105.3" width="107.3" height="95.5"/><rect class="c" x="763.2" y="3136" width="107.3" height="33"/>
<text class="t f10" x="817" y="3124.5">INPUT BLOCK <tspan class="i">n</tspan></text><text class="t" x="817" y="3159.8" font-size="19">CIPH<tspan class="k" dy="5">K</tspan></text><text class="t f10" x="817" y="3189.5">OUTPUT BLOCK <tspan class="i">n</tspan></text></g>
<g id="ctr-dec-ctn"><rect class="b" x="701.3" y="3226.2" width="87.5" height="30.6"/><text class="t f10" x="745" y="3245.5">CIPHERTEXT <tspan class="i">n</tspan></text></g>
<g id="ctr-dec-ptn"><rect class="b" x="776" y="3279.4" width="83" height="29.6"/><text class="t f10" x="817.5" y="3298.8">PLAINTEXT <tspan class="i">n</tspan></text></g>
<text class="wm" x="739" y="3322">CSDN @安全有理</text>
<text class="h" x="25" y="3380">PKCS7填充方式</text>
</svg>
